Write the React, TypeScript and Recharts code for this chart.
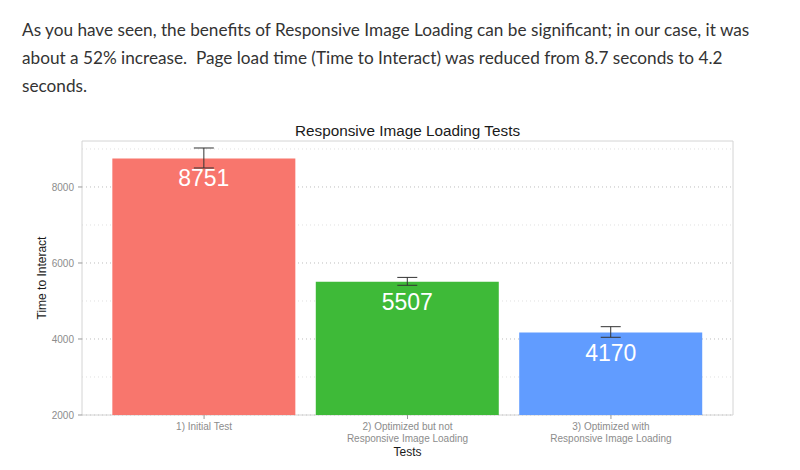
import { BarChart, Bar, XAxis, YAxis, CartesianGrid, ErrorBar, LabelList, ReferenceArea, Cell } from "recharts";

const introLines = [
  "As you have seen, the benefits of Responsive Image Loading can be significant; in our case, it was",
  "about a 52% increase.  Page load time (Time to Interact) was reduced from 8.7 seconds to 4.2",
  "seconds.",
];

const tests = [
  "1) Initial Test",
  "2) Optimized but not\nResponsive Image Loading",
  "3) Optimized with\nResponsive Image Loading",
];
const testPositions = [1, 2, 3];
const xDomain = [0.4, 3.6];
const meanTimes = [8751, 5507, 4170];
const lowerTimes = [8500, 5413, 4045];
const upperTimes = [9026, 5621, 4324];
const barColors = ["#F8766D", "#3EBA38", "#619CFF"];
const majorTicks = [2000, 4000, 6000, 8000];
const minorTicks = [3000, 5000, 7000, 9000];
const yDomain = [2000, 9210];

const chartData = tests.map((test, i) => ({
  test,
  pos: testPositions[i],
  time: meanTimes[i],
  err: [meanTimes[i] - lowerTimes[i], upperTimes[i] - meanTimes[i]],
}));

const plotFont = "'Liberation Sans', Arial, sans-serif";

function TestTick({ x, y, payload }: any) {
  const idx = testPositions.indexOf(Number(payload.value));
  const lines = (tests[idx] ?? "").split("\n");
  return (
    <text x={x} y={y} textAnchor="middle" fill="#8c8c8c" fontSize={10} fontFamily={plotFont}>
      {lines.map((l, i) => (
        <tspan key={i} x={x} dy={i === 0 ? 9 : 12}>
          {l}
        </tspan>
      ))}
    </text>
  );
}

function BarValue(p: any) {
  return (
    <text
      x={p.x + p.width / 2}
      y={p.y + 28}
      textAnchor="middle"
      fill="#ffffff"
      fontSize={23}
      fontFamily={plotFont}
    >
      {p.value}
    </text>
  );
}

export default function App() {
  return (
    <div style={{ position: "fixed", left: 0, top: 0, width: 800, height: 470, background: "#fff" }}>
      <div
        style={{
          position: "absolute",
          left: 22,
          top: 16,
          fontFamily: "Lato, sans-serif",
          fontSize: 17.2,
          lineHeight: "28px",
          color: "#333",
          whiteSpace: "pre",
        }}
      >
        {introLines.map((l, i) => (
          <div key={i}>{l}</div>
        ))}
      </div>
      <div
        style={{
          position: "absolute",
          left: 82,
          top: 122,
          width: 651,
          textAlign: "center",
          fontFamily: plotFont,
          fontSize: 15.3,
          lineHeight: "18px",
          color: "#1a1a1a",
        }}
      >
        Responsive Image Loading Tests
      </div>
      <div style={{ position: "absolute", left: 0, top: 110 }}>
        <BarChart width={800} height={360} data={chartData} margin={{ top: 31, right: 67, bottom: 0, left: 0 }}>
          <CartesianGrid vertical={false} horizontalValues={minorTicks} stroke="#e0e0e0" strokeDasharray="1 3" />
          <CartesianGrid vertical={false} horizontalValues={majorTicks} stroke="#bdbdbd" strokeDasharray="1 3" />
          <XAxis
            dataKey="pos"
            type="number"
            domain={xDomain}
            ticks={testPositions}
            allowDataOverflow
            height={55}
            axisLine={false}
            tickLine={{ stroke: "#999" }}
            tickSize={4}
            tickMargin={2}
            tick={<TestTick />}
            interval={0}
            label={{ value: "Tests", position: "insideBottom", offset: 14, fill: "#1a1a1a", fontSize: 12, fontFamily: plotFont }}
          />
          <YAxis
            width={82}
            domain={yDomain}
            ticks={majorTicks}
            allowDataOverflow
            axisLine={false}
            tickLine={{ stroke: "#999" }}
            tickSize={4}
            tickMargin={4}
            tick={{ fill: "#8c8c8c", fontSize: 10, fontFamily: plotFont }}
            label={{ value: "Time to Interact", angle: -90, position: "center", dx: 1, fill: "#1a1a1a", fontSize: 12, fontFamily: plotFont }}
          />
          <ReferenceArea
            x1={xDomain[0]}
            x2={xDomain[1]}
            y1={yDomain[0]}
            y2={yDomain[1]}
            fill="none"
            stroke="#d4d4d4"
            ifOverflow="visible"
          />
          <Bar dataKey="time" barSize={183} isAnimationActive={false}>
            {chartData.map((d, i) => (
              <Cell key={d.test} fill={barColors[i]} />
            ))}
            <LabelList dataKey="time" content={<BarValue />} />
            <ErrorBar dataKey="err" width={10} stroke="#333" strokeWidth={1} />
          </Bar>
        </BarChart>
      </div>
    </div>
  );
}
